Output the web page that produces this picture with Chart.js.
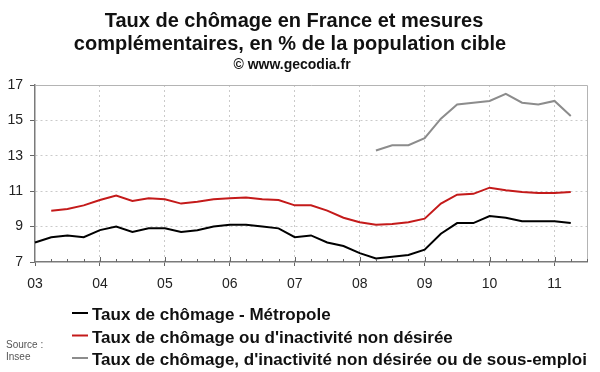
<!DOCTYPE html>
<html>
<head>
<meta charset="utf-8">
<script src="https://cdn.jsdelivr.net/npm/chart.js@4.4.0/dist/chart.umd.min.js"></script>
<style>
  html, body { margin: 0; padding: 0; background: #fff; }
  #wrap { width: 600px; height: 372px; position: relative; }
</style>
</head>
<body>
<div id="wrap"><canvas id="chomageChart"></canvas></div>
<script>
// trimestres de 2003 T1 a 2011 T3 (le dernier sert juste de marge a droite)
var quarters = [
  '2003T1', '2003T2', '2003T3', '2003T4',
  '2004T1', '2004T2', '2004T3', '2004T4',
  '2005T1', '2005T2', '2005T3', '2005T4',
  '2006T1', '2006T2', '2006T3', '2006T4',
  '2007T1', '2007T2', '2007T3', '2007T4',
  '2008T1', '2008T2', '2008T3', '2008T4',
  '2009T1', '2009T2', '2009T3', '2009T4',
  '2010T1', '2010T2', '2010T3', '2010T4',
  '2011T1', '2011T2', '2011T3'
];
var yearLabels = ['03', '04', '05', '06', '07', '08', '09', '10', '11'];

var chomageMetropole = [8.1, 8.4, 8.5, 8.4, 8.8, 9.0, 8.7, 8.9, 8.9, 8.7, 8.8, 9.0, 9.1, 9.1, 9.0, 8.9,
  8.4, 8.5, 8.1, 7.9, 7.5, 7.2, 7.3, 7.4, 7.7, 8.6, 9.2, 9.2, 9.6, 9.5, 9.3, 9.3, 9.3, 9.2];
var chomageInactivite = [null, 9.9, 10.0, 10.2, 10.5, 10.75, 10.45, 10.6, 10.55, 10.3, 10.4, 10.55, 10.6, 10.65, 10.55, 10.5,
  10.2, 10.2, 9.9, 9.5, 9.25, 9.1, 9.15, 9.25, 9.45, 10.3, 10.8, 10.85, 11.2, 11.05, 10.95, 10.9, 10.9, 10.95];
var chomageSousEmploi = [null, null, null, null, null, null, null, null, null, null, null, null, null, null, null, null,
  null, null, null, null, null, 13.3, 13.6, 13.6, 14.0, 15.1, 15.9, 16.0, 16.1, 16.5, 16.0, 15.9, 16.1, 15.25];

var seriesNames = [
  'Taux de chômage - Métropole',
  'Taux de chômage ou d\'inactivité non désirée',
  'Taux de chômage, d\'inactivité non désirée ou de sous-emploi'
];
var seriesColors = ['#000000', '#c41a1a', '#8c8c8c'];

var titleLines = ['Taux de chômage en France et mesures', 'complémentaires, en % de la population cible'];
var subTitle = '© www.gecodia.fr';
var sourceLines = ['Source :', 'Insee'];

var FONT = '"Liberation Sans", Arial, sans-serif';

var decorPlugin = {
  id: 'decor',
  afterDraw: function(chart) {
    var ctx = chart.ctx;
    var area = chart.chartArea;
    var xScale = chart.scales.x;
    ctx.save();

    // cadre haut et droit
    ctx.strokeStyle = '#b4b4b4';
    ctx.lineWidth = 1;
    ctx.beginPath();
    ctx.moveTo(area.left, area.top + 0.5);
    ctx.lineTo(area.right + 0.5, area.top + 0.5);
    ctx.lineTo(area.right + 0.5, area.bottom);
    ctx.stroke();

    // petites graduations trimestrielles vers l'interieur
    ctx.strokeStyle = '#666';
    ctx.beginPath();
    for (var i = 1; i < quarters.length; i++) {
      var px = Math.round(xScale.getPixelForTick(i)) + 0.5;
      var len = (i % 4 === 0) ? 5 : 3;
      ctx.moveTo(px, area.bottom);
      ctx.lineTo(px, area.bottom - len);
    }
    ctx.stroke();

    // titre
    ctx.fillStyle = '#111';
    ctx.textAlign = 'center';
    ctx.textBaseline = 'alphabetic';
    ctx.font = 'bold 20px ' + FONT;
    ctx.fillText(titleLines[0], 294, 27);
    ctx.fillText(titleLines[1], 290, 49.5);
    ctx.font = 'bold 14px ' + FONT;
    ctx.fillText(subTitle, 292, 69);

    // legende
    ctx.textAlign = 'left';
    ctx.font = 'bold 17px ' + FONT;
    chart.data.datasets.forEach(function(ds, k) {
      var base = 320 + k * 22.5;
      ctx.strokeStyle = ds.borderColor;
      ctx.lineWidth = 2;
      ctx.beginPath();
      ctx.moveTo(72, base - 7);
      ctx.lineTo(88, base - 7);
      ctx.stroke();
      ctx.fillStyle = '#111';
      ctx.fillText(ds.label, 92, base);
    });

    // source
    ctx.font = '10px ' + FONT;
    ctx.fillStyle = '#555';
    ctx.textBaseline = 'middle';
    ctx.fillText(sourceLines[0], 6, 345);
    ctx.fillText(sourceLines[1], 6, 357);

    ctx.restore();
  }
};

var datasets = [chomageMetropole, chomageInactivite, chomageSousEmploi].map(function(values, k) {
  return {
    label: seriesNames[k],
    data: values,
    borderColor: seriesColors[k],
    backgroundColor: seriesColors[k],
    borderWidth: 2,
    pointRadius: 0,
    tension: 0,
    spanGaps: false
  };
});

var ctx = document.getElementById('chomageChart').getContext('2d');
var myChart = new Chart(ctx, {
  type: 'line',
  data: { labels: quarters, datasets: datasets },
  options: {
    responsive: true,
    maintainAspectRatio: false,
    animation: false,
    layout: { padding: { top: 85, right: 13, left: 0, bottom: 0 } },
    plugins: {
      legend: { display: false },
      title: { display: false },
      tooltip: { enabled: false }
    },
    scales: {
      x: {
        type: 'category',
        offset: false,
        afterFit: function(scale) { scale.height = 110; },
        border: { display: true, color: '#7a7a7a', width: 1.5, dash: [2, 3] },
        grid: {
          lineWidth: 1,
          tickLength: 4,
          color: function(c) {
            var i = c.index;
            return (i % 4 === 0 && i > 0 && i < quarters.length - 1) ? '#cacaca' : 'rgba(0,0,0,0)';
          },
          tickColor: function(c) {
            return (c.index % 4 === 0) ? '#666' : 'rgba(0,0,0,0)';
          }
        },
        ticks: {
          autoSkip: false,
          maxRotation: 0,
          padding: 10,
          color: '#222',
          font: { family: FONT, size: 14 },
          callback: function(value, index) {
            return (index % 4 === 0) ? yearLabels[index / 4] : '';
          }
        }
      },
      y: {
        min: 7,
        max: 17,
        afterFit: function(scale) { scale.width = 35; },
        border: { display: true, color: '#7a7a7a', width: 1.5, dash: [2, 3] },
        grid: {
          tickLength: 5,
          tickColor: '#666',
          color: function(c) {
            var v = c.tick ? c.tick.value : null;
            return (v === 7 || v === 17) ? 'rgba(0,0,0,0)' : '#cacaca';
          }
        },
        ticks: {
          stepSize: 2,
          padding: 7,
          color: '#222',
          font: { family: FONT, size: 14 }
        }
      }
    }
  },
  plugins: [decorPlugin]
});
</script>
</body>
</html>
